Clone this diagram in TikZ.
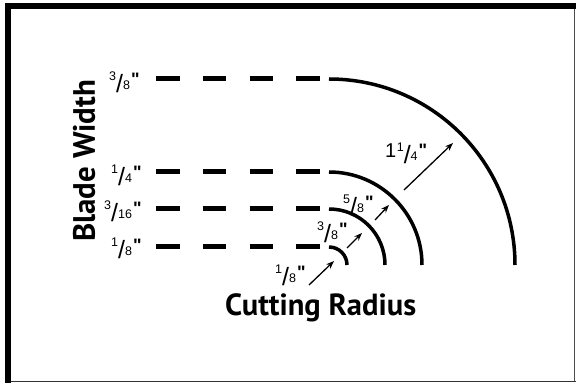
\documentclass[tikz,border=0pt]{standalone}
\usepackage{fontspec}
\setmainfont{Liberation Sans}
\newfontfamily\titlefont{PT Sans}
\newfontfamily\qfont{Liberation Sans}[Ligatures=ResetAll]
\usetikzlibrary{arrows.meta}
\newcommand{\fr}[2]{\raisebox{9.5pt}{\fontsize{12.5}{12.5}\selectfont#1}\raisebox{-2.5pt}{\fontsize{25}{25}\selectfont/}{\fontsize{12.5}{12.5}\selectfont#2}\kern1pt\raisebox{4pt}{\qfont\fontsize{18}{18}\selectfont\bfseries\symbol{34}}}
\tikzset{
  dashline/.style={line width=5pt, dash pattern=on 23.5pt off 23.33pt},
  arcline/.style={line width=3.5pt},
  radarrow/.style={line width=1.3pt, -{Stealth[length=8pt,width=6pt]}},
  lab/.style={anchor=base west, inner sep=0pt},
  title/.style={inner sep=0pt, font=\titlefont\bfseries}
}
\begin{document}
\begin{tikzpicture}[x=1pt,y=1pt]
\useasboundingbox (0,0) rectangle (576,383);
% frame
\fill[black] (5,374) rectangle (576,380);
\fill[black] (5,0) rectangle (11,380);
\draw[line width=1.2pt, black!80] (11,1.5) -- (576,1.5);
\draw[line width=1pt, black!70] (574,374) -- (574,1.5);
% centre and guide coordinates
\coordinate (c) at (329,118);
\foreach \nm/\Y in {a/304, b/211, d/174, e/136}{
  \coordinate (\nm s) at (156,\Y);
  \coordinate (\nm m) at (320,\Y);
  \coordinate (\nm r) at (329,\Y);
}
% dashed lines
\draw[dashline] (as) -- (am);
\draw[dashline] (bs) -- (bm);
\draw[dashline] (ds) -- (dm);
\draw[dashline] (es) -- (em);
% arcs
\draw[arcline] (ar) arc[start angle=90, end angle=0, radius=186pt];
\draw[arcline] (br) arc[start angle=90, end angle=0, radius=93pt];
\draw[arcline] (dr) arc[start angle=90, end angle=0, radius=56pt];
\draw[arcline] (er) arc[start angle=90, end angle=0, radius=18pt];
% arrows
\coordinate (p1) at (309,98);  \coordinate (q1) at (334,122);
\coordinate (p2) at (347,135); \coordinate (q2) at (362,150);
\coordinate (p3) at (375,163); \coordinate (q3) at (389,178);
\coordinate (p4) at (404,193); \coordinate (q4) at (453,240);
\draw[radarrow] (p1) -- (q1);
\draw[radarrow] (p2) -- (q2);
\draw[radarrow] (p3) -- (q3);
\draw[radarrow] (p4) -- (q4);
% left labels
\node[lab] (l1) at (109,293) {\fr{3}{8}};
\node[lab] (l2) at (111,200) {\fr{1}{4}};
\node[lab] (l3) at (104,164) {\fr{3}{16}};
\node[lab] (l4) at (111,127) {\fr{1}{8}};
% radius labels
\node[lab] (r1) at (275,100) {\fr{1}{8}};
\node[lab] (r2) at (317,143) {\fr{3}{8}};
\node[lab] (r3) at (343,170) {\fr{5}{8}};
\node[lab] (r4) at (385,222) {\raisebox{3pt}{\fontsize{20}{20}\selectfont 1}\kern0.5pt\fr{1}{4}};
% titles
\node[title, anchor=base west] (cr) at (225,67) {\resizebox{191pt}{!}{Cutting Radius}};
\node[title, rotate=90, anchor=base west] (bw) at (95,141) {\resizebox{162pt}{!}{Blade Width}};
\end{tikzpicture}
\end{document}
